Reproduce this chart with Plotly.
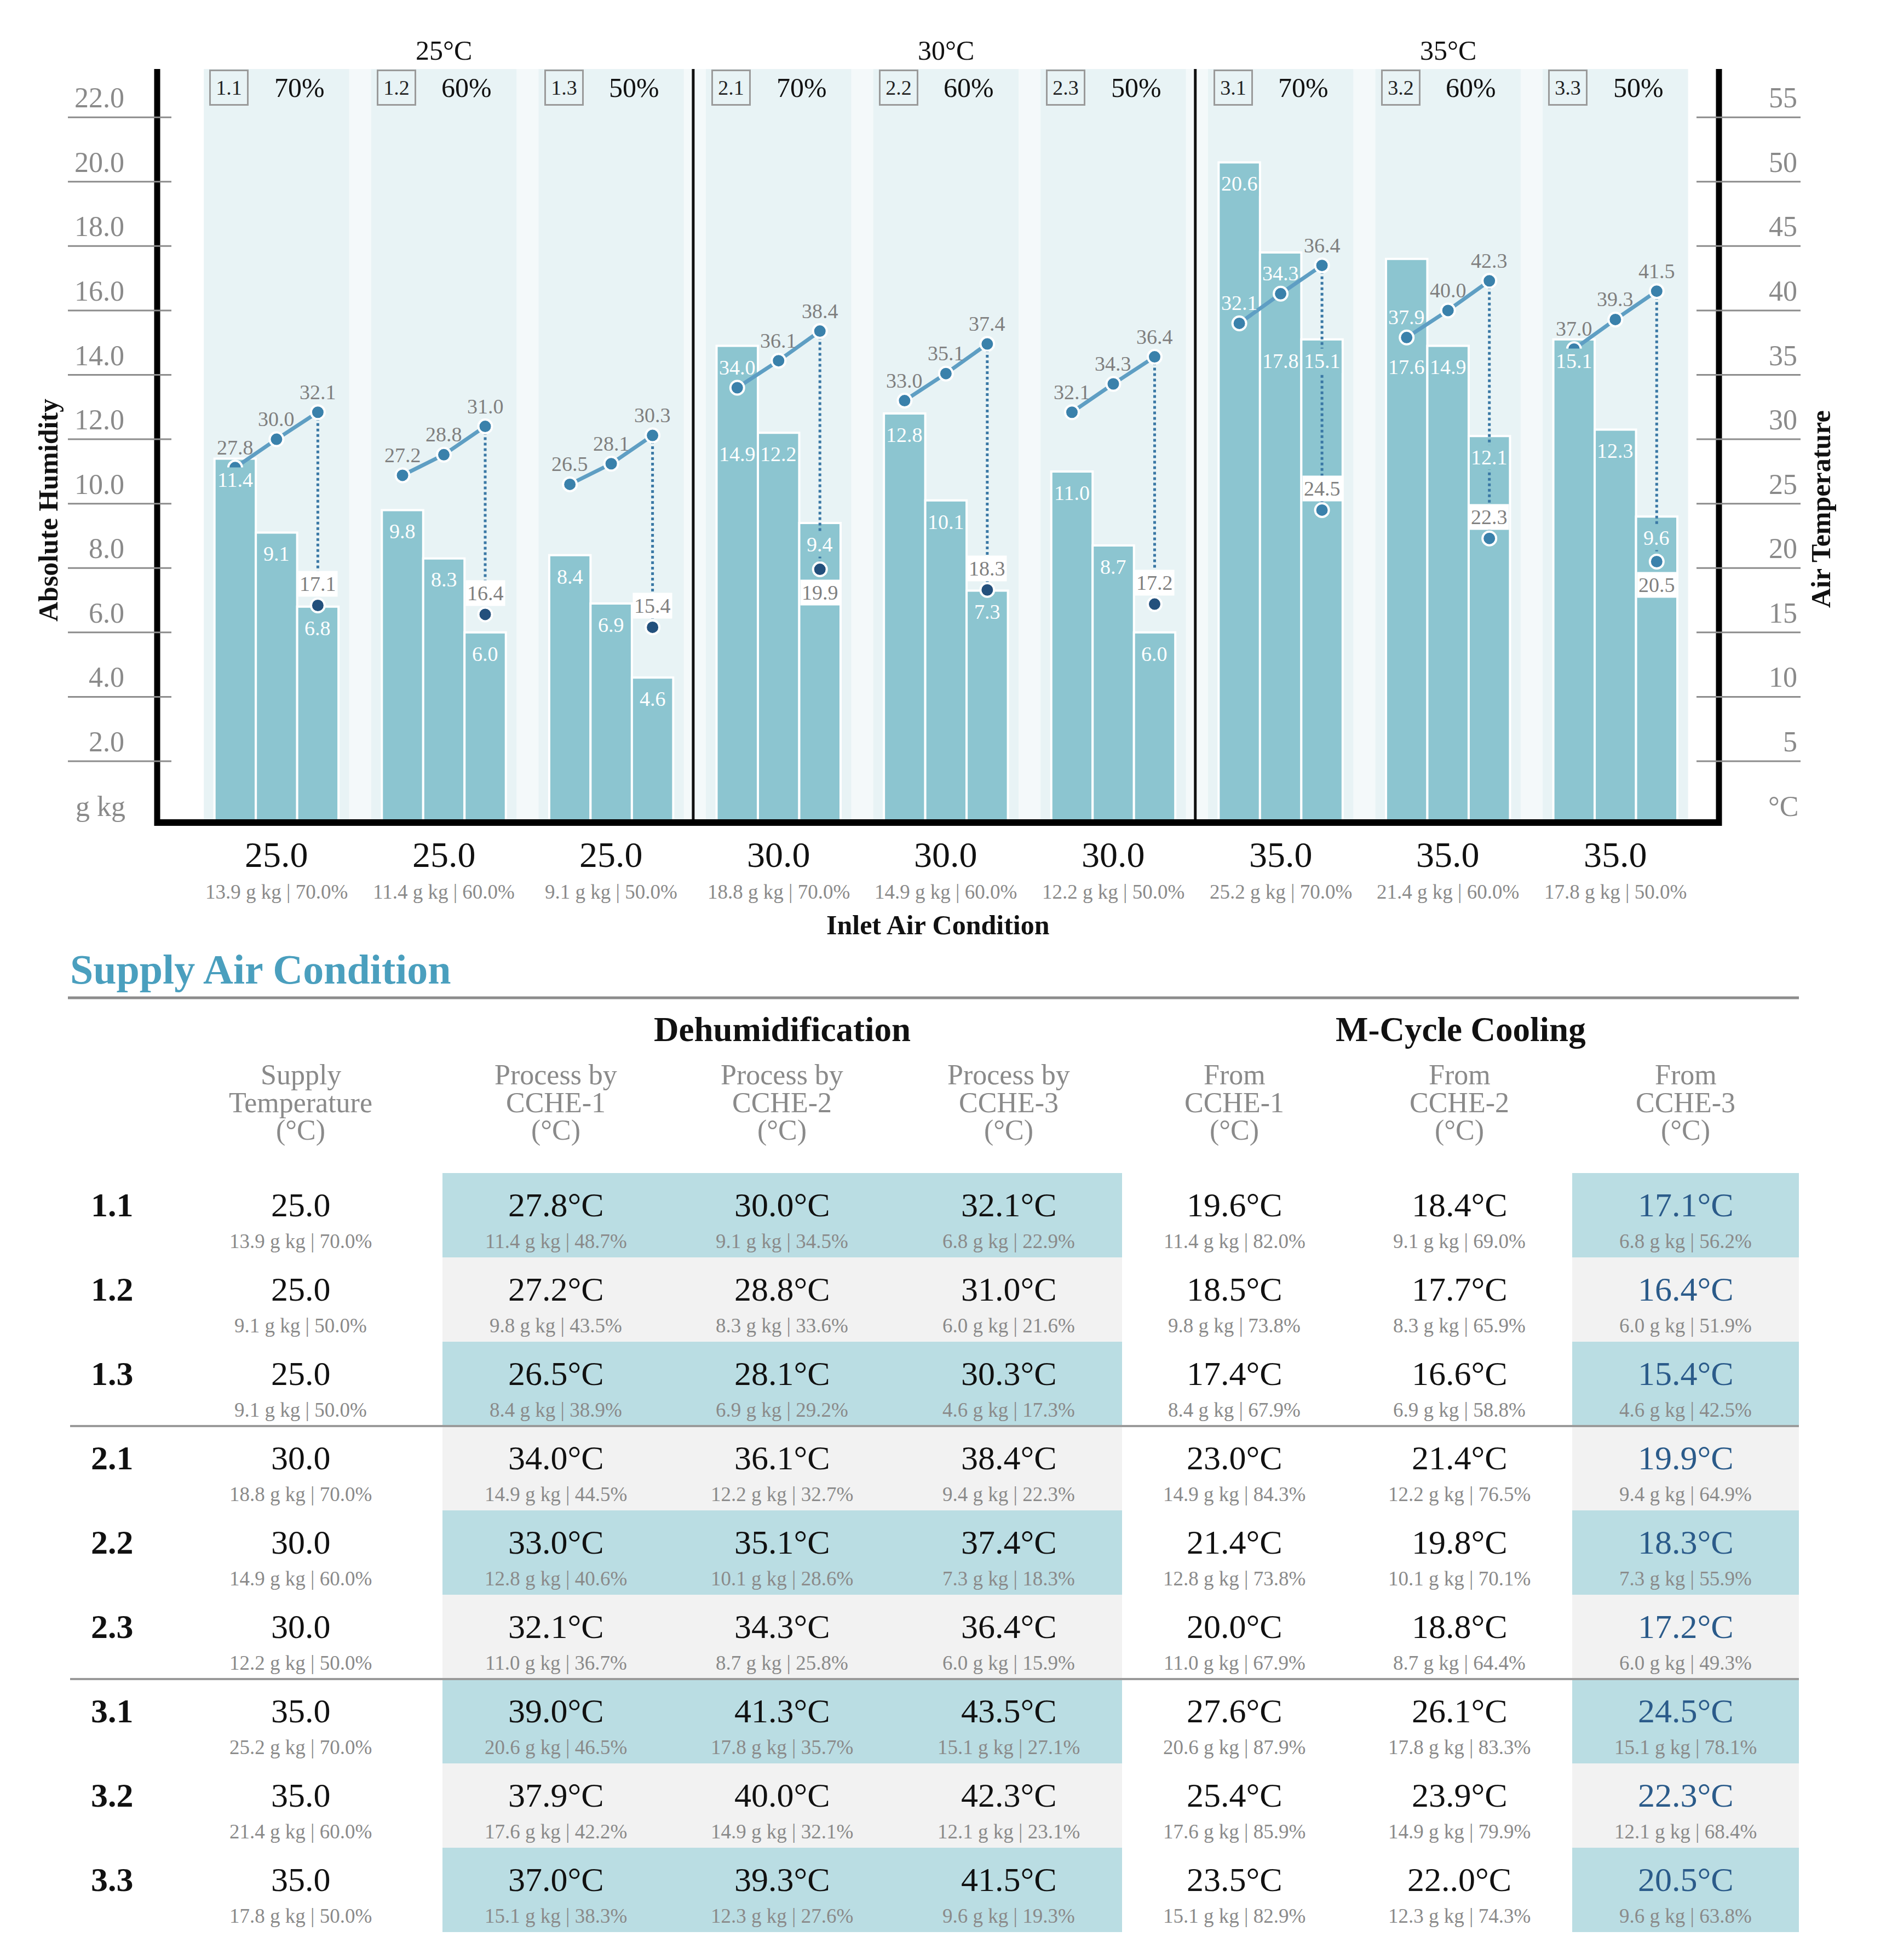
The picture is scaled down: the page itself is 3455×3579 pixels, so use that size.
import plotly.graph_objects as go

# ---------------- data ----------------
case_ids = ["1.1", "1.2", "1.3", "2.1", "2.2", "2.3", "3.1", "3.2", "3.3"]
block_titles = ["25°C", "30°C", "35°C"]
inlet_rh_titles = ["70%", "60%", "50%", "70%", "60%", "50%", "70%", "60%", "50%"]
inlet_temp = [25.0, 25.0, 25.0, 30.0, 30.0, 30.0, 35.0, 35.0, 35.0]
inlet_hum = [13.9, 11.4, 9.1, 18.8, 14.9, 12.2, 25.2, 21.4, 17.8]
inlet_rh = [70.0, 60.0, 50.0, 70.0, 60.0, 50.0, 70.0, 60.0, 50.0]

# absolute humidity after each CCHE (g/kg)
hum_cche1 = [11.4, 9.8, 8.4, 14.9, 12.8, 11.0, 20.6, 17.6, 15.1]
hum_cche2 = [9.1, 8.3, 6.9, 12.2, 10.1, 8.7, 17.8, 14.9, 12.3]
hum_cche3 = [6.8, 6.0, 4.6, 9.4, 7.3, 6.0, 15.1, 12.1, 9.6]

# air temperature after each CCHE (°C)
temp_cche1 = [27.8, 27.2, 26.5, 34.0, 33.0, 32.1, 39.0, 37.9, 37.0]
temp_cche2 = [30.0, 28.8, 28.1, 36.1, 35.1, 34.3, 41.3, 40.0, 39.3]
temp_cche3 = [32.1, 31.0, 30.3, 38.4, 37.4, 36.4, 43.5, 42.3, 41.5]
temp_mcycle = [17.1, 16.4, 15.4, 19.9, 18.3, 17.2, 24.5, 22.3, 20.5]

# labels as printed on the chart line
line_labels_1 = ["27.8", "27.2", "26.5", "34.0", "33.0", "32.1", "32.1", "37.9", "37.0"]
line_labels_2 = ["30.0", "28.8", "28.1", "36.1", "35.1", "34.3", "34.3", "40.0", "39.3"]
line_labels_3 = ["32.1", "31.0", "30.3", "38.4", "37.4", "36.4", "36.4", "42.3", "41.5"]

# table values
table_supply_hum = [13.9, 9.1, 9.1, 18.8, 14.9, 12.2, 25.2, 21.4, 17.8]
table_supply_rh = [70.0, 50.0, 50.0, 70.0, 60.0, 50.0, 70.0, 60.0, 50.0]
rh_cche1 = [48.7, 43.5, 38.9, 44.5, 40.6, 36.7, 46.5, 42.2, 38.3]
rh_cche2 = [34.5, 33.6, 29.2, 32.7, 28.6, 25.8, 35.7, 32.1, 27.6]
rh_cche3 = [22.9, 21.6, 17.3, 22.3, 18.3, 15.9, 27.1, 23.1, 19.3]
from1_temp = [19.6, 18.5, 17.4, 23.0, 21.4, 20.0, 27.6, 25.4, 23.5]
from1_rh = [82.0, 73.8, 67.9, 84.3, 73.8, 67.9, 87.9, 85.9, 82.9]
from2_text = ["18.4°C", "17.7°C", "16.6°C", "21.4°C", "19.8°C", "18.8°C", "26.1°C", "23.9°C", "22..0°C"]
from2_rh = [69.0, 65.9, 58.8, 76.5, 70.1, 64.4, 83.3, 79.9, 74.3]
from3_rh = [56.2, 51.9, 42.5, 64.9, 55.9, 49.3, 78.1, 68.4, 63.8]

left_ticks = [2, 4, 6, 8, 10, 12, 14, 16, 18, 20, 22]
right_ticks = [5, 10, 15, 20, 25, 30, 35, 40, 45, 50, 55]

col_headers = [["Supply", "Temperature", "(°C)"],
               ["Process by", "CCHE-1", "(°C)"],
               ["Process by", "CCHE-2", "(°C)"],
               ["Process by", "CCHE-3", "(°C)"],
               ["From", "CCHE-1", "(°C)"],
               ["From", "CCHE-2", "(°C)"],
               ["From", "CCHE-3", "(°C)"]]

# ---------------- style / layout constants ----------------
W, H = 3455, 3579
FONT = "Liberation Serif"
BAR = "#8cc5d0"
BAND = "#e8f3f5"
BAND_GAP = "#f4f9fa"
LINE = "#5e9ec3"
MARK = "#3a81ab"
NAVY = "#23507c"
GRAY = "#8a8a8a"
TICKLINE = "#8c8c8c"
TEAL_CELL = "#badde3"
GRAY_CELL = "#f2f2f2"
TITLE = "#4a9fbe"
CELL_BLUE = "#2b5b8a"

X_LEFT, X_RIGHT = 287, 3139
Y_TOP, Y_ZERO = 126, 1507.6
Y_MAX = 23.5
T_SCALE = 2.5
BAR_OFF = 0.247
BAND_HALF = 0.434
X_MIN, X_MAX = -0.713, 8.619
PX_PER_UNIT = (Y_ZERO - Y_TOP) / Y_MAX
BAR_LABEL_DROP = 0.66
BAR_LABEL_ALIGN = {(3, 0): 1, (6, 1): 2, (7, 0): 1}
FINAL_COLORS = [NAVY, NAVY, NAVY, NAVY, NAVY, NAVY, MARK, MARK, MARK]

ann = []
shapes = []


def A(text, x, y, size, color="#111111", bold=False, xref="paper", yref="paper",
      xanchor="center", yanchor="middle", **kw):
    if xref == "paper":
        x = x / W
    if yref == "paper":
        y = 1 - y / H
    ann.append(dict(text=f"<b>{text}</b>" if bold else text, x=x, y=y, xref=xref, yref=yref,
                    xanchor=xanchor, yanchor=yanchor, showarrow=False,
                    font=dict(family=FONT, size=size, color=color), **kw))


def L(x0, y0, x1, y1, color, width, xref="paper", yref="paper", layer="above", dash=None):
    if xref == "paper":
        x0, x1 = x0 / W, x1 / W
    if yref == "paper":
        y0, y1 = 1 - y0 / H, 1 - y1 / H
    ln = dict(color=color, width=width)
    if dash:
        ln["dash"] = dash
    shapes.append(dict(type="line", x0=x0, y0=y0, x1=x1, y1=y1, xref=xref, yref=yref,
                       line=ln, layer=layer))


def R(x0, y0, x1, y1, fill, xref="paper", yref="paper", layer="below"):
    if xref == "paper":
        x0, x1 = x0 / W, x1 / W
    if yref == "paper":
        y0, y1 = 1 - y0 / H, 1 - y1 / H
    shapes.append(dict(type="rect", x0=x0, y0=y0, x1=x1, y1=y1, xref=xref, yref=yref,
                       fillcolor=fill, line=dict(width=0), layer=layer))


fig = go.Figure()
n = len(case_ids)
centers = list(range(n))

# backgrounds
R(-BAND_HALF, 0, n - 1 + BAND_HALF, Y_MAX, BAND_GAP, xref="x", yref="y")
for c in centers:
    R(c - BAND_HALF, 0, c + BAND_HALF, Y_MAX, BAND, xref="x", yref="y")
for b in (2.49, 5.49):
    L(b, 0, b, Y_MAX, "#111111", 5, xref="x", yref="y", layer="below")

# bars
bar_sets = [hum_cche1, hum_cche2, hum_cche3]
for k in range(3):
    fig.add_trace(go.Bar(x=[c + (k - 1) * BAR_OFF for c in centers], y=bar_sets[k],
                         width=BAR_OFF, marker=dict(color=BAR, line=dict(color="white", width=4)),
                         hoverinfo="skip", showlegend=False))

# dotted drop line
dx, dy = [], []
for i in centers:
    dx += [i + BAR_OFF, i + BAR_OFF, None]
    dy += [temp_cche3[i], temp_mcycle[i], None]
fig.add_trace(go.Scatter(x=dx, y=dy, yaxis="y2", mode="lines",
                         line=dict(color="#3a78a5", width=5, dash="dot"),
                         hoverinfo="skip", showlegend=False))

# temperature line
temp_sets = [temp_cche1, temp_cche2, temp_cche3]
lx, ly = [], []
for i in centers:
    for k in range(3):
        lx.append(i + (k - 1) * BAR_OFF)
        ly.append(temp_sets[k][i])
    lx.append(None)
    ly.append(None)
fig.add_trace(go.Scatter(x=lx, y=ly, yaxis="y2", mode="lines+markers",
                         line=dict(color=LINE, width=7),
                         marker=dict(size=25, color=MARK, line=dict(color="white", width=4)),
                         hoverinfo="skip", showlegend=False))

# final (M-cycle) points
fig.add_trace(go.Scatter(x=[i + BAR_OFF for i in centers], y=temp_mcycle, yaxis="y2",
                         mode="markers",
                         marker=dict(size=25, color=FINAL_COLORS, line=dict(color="white", width=4)),
                         hoverinfo="skip", showlegend=False))

# bar labels
for i in centers:
    for k in range(3):
        h = bar_sets[k][i]
        ly_ = bar_sets[k][i] - BAR_LABEL_DROP
        if (i, k) in BAR_LABEL_ALIGN:
            ly_ = bar_sets[BAR_LABEL_ALIGN[(i, k)]][i] - BAR_LABEL_DROP
        A(f"{h:.1f}", i + (k - 1) * BAR_OFF, ly_, 38, "white", xref="x", yref="y",
          bgcolor=BAR, borderpad=1)

# line labels
lab_sets = [line_labels_1, line_labels_2, line_labels_3]
for i in centers:
    for k in range(3):
        t = temp_sets[k][i]
        pos = t / T_SCALE + 36 / PX_PER_UNIT
        col = "white" if pos < bar_sets[k][i] else "#7f7f7f"
        A(lab_sets[k][i], i + (k - 1) * BAR_OFF, t, 38, col, xref="x", yref="y2", yshift=37)

# final labels
for i in centers:
    above = temp_mcycle[i] / T_SCALE + 38 / PX_PER_UNIT
    bar_lab = hum_cche3[i] - BAR_LABEL_DROP
    shift = -42 if abs(above - bar_lab) < 1.0 else 39
    A(f"{temp_mcycle[i]:.1f}", i + BAR_OFF, temp_mcycle[i], 38, "#7f7f7f", xref="x", yref="y2",
      yshift=shift, bgcolor="white", borderpad=2)

# block titles and sub headers
for b in range(3):
    A(block_titles[b], 3 * b + 1, 92, 50, "#111111", xref="x")
for i in centers:
    A(case_ids[i], i - 0.283, 160, 38, "#222222", xref="x", bordercolor="#9a9a9a",
      borderwidth=3, borderpad=2, width=62, height=56)
    A(inlet_rh_titles[i], i + 0.137, 160, 50, "#111111", xref="x")

# frame
L(X_LEFT, Y_TOP, X_LEFT, 1508, "#000000", 11)
L(X_RIGHT, Y_TOP, X_RIGHT, 1508, "#000000", 11)
L(X_LEFT - 5, 1502, X_RIGHT + 5, 1502, "#000000", 12)

# ticks
for v in left_ticks:
    L(124, v, 313, v, TICKLINE, 3, yref="y")
    A(f"{v:.1f}", 229, v, 52, GRAY, yref="y", xanchor="right", yanchor="bottom", yshift=5)
for v in right_ticks:
    L(3098, v, 3288, v, TICKLINE, 3, yref="y2")
    A(f"{v}", 3284, v, 52, GRAY, yref="y2", xanchor="right", yanchor="bottom", yshift=5)
A("g kg", 231, 0, 52, GRAY, yref="y", xanchor="right", yanchor="bottom", yshift=5)
A("°C", 3286, 0, 52, GRAY, yref="y2", xanchor="right", yanchor="bottom", yshift=5)
A("Absolute Humidity", 88, 932, 50, "#111111", bold=True, textangle=-90)
A("Air Temperature", 3325, 930, 50, "#111111", bold=True, textangle=-90)

# x labels
for i in centers:
    A(f"{inlet_temp[i]:.1f}", i, 1560, 66, "#111111", xref="x")
    A(f"{inlet_hum[i]:.1f} g kg | {inlet_rh[i]:.1f}%", i, 1628, 37, GRAY, xref="x")
A("Inlet Air Condition", (X_LEFT + X_RIGHT) / 2, 1689, 50, "#111111", bold=True)

# ---------------- table ----------------
A("Supply Air Condition", 126, 1770, 76, TITLE, bold=True, xanchor="left")
L(124, 1822, 3285, 1822, "#8c8c8c", 5)
A("Dehumidification", 1428, 1880, 63, "#111111", bold=True)
A("M-Cycle Cooling", 2667, 1880, 63, "#111111", bold=True)

col_x = [549, 1015, 1428, 1842, 2254, 2665, 3078]
for j, lines in enumerate(col_headers):
    for r, txt in enumerate(lines):
        A(txt, col_x[j], 1962 + 51 * r, 52, GRAY)

ROW_TOP0, ROW_H = 2142, 154
for i in centers:
    top = ROW_TOP0 + i * ROW_H
    fill = TEAL_CELL if i % 2 == 0 else GRAY_CELL
    R(808, top, 2049, top + ROW_H, fill)
    R(2871, top, 3285, top + ROW_H, fill)
    A(case_ids[i], 205, top + 58, 62, "#111111", bold=True)
    cells = [
        (f"{inlet_temp[i]:.1f}", f"{table_supply_hum[i]:.1f} g kg | {table_supply_rh[i]:.1f}%", "#111111"),
        (f"{temp_cche1[i]:.1f}°C", f"{hum_cche1[i]:.1f} g kg | {rh_cche1[i]:.1f}%", "#111111"),
        (f"{temp_cche2[i]:.1f}°C", f"{hum_cche2[i]:.1f} g kg | {rh_cche2[i]:.1f}%", "#111111"),
        (f"{temp_cche3[i]:.1f}°C", f"{hum_cche3[i]:.1f} g kg | {rh_cche3[i]:.1f}%", "#111111"),
        (f"{from1_temp[i]:.1f}°C", f"{hum_cche1[i]:.1f} g kg | {from1_rh[i]:.1f}%", "#111111"),
        (from2_text[i], f"{hum_cche2[i]:.1f} g kg | {from2_rh[i]:.1f}%", "#111111"),
        (f"{temp_mcycle[i]:.1f}°C", f"{hum_cche3[i]:.1f} g kg | {from3_rh[i]:.1f}%", CELL_BLUE),
    ]
    for j, (main, sub, colr) in enumerate(cells):
        A(main, col_x[j], top + 58, 62, colr)
        A(sub, col_x[j], top + 124, 37, GRAY)

for r in (3, 6):
    y = ROW_TOP0 + r * ROW_H
    L(128, y, 3285, y, "#9a9a9a", 4)

fig.update_layout(
    width=W, height=H, margin=dict(l=0, r=0, t=0, b=0),
    paper_bgcolor="white", plot_bgcolor="rgba(0,0,0,0)",
    barmode="overlay", showlegend=False,
    xaxis=dict(domain=[X_LEFT / W, X_RIGHT / W], range=[X_MIN, X_MAX], visible=False),
    yaxis=dict(domain=[1 - Y_ZERO / H, 1 - Y_TOP / H], range=[0, Y_MAX], visible=False),
    yaxis2=dict(overlaying="y", range=[0, Y_MAX * T_SCALE], visible=False, side="right"),
    annotations=ann, shapes=shapes,
    font=dict(family=FONT),
)

fig.write_html("out.html", config=dict(displayModeBar=False),
               post_script="document.body.style.margin='0';")
